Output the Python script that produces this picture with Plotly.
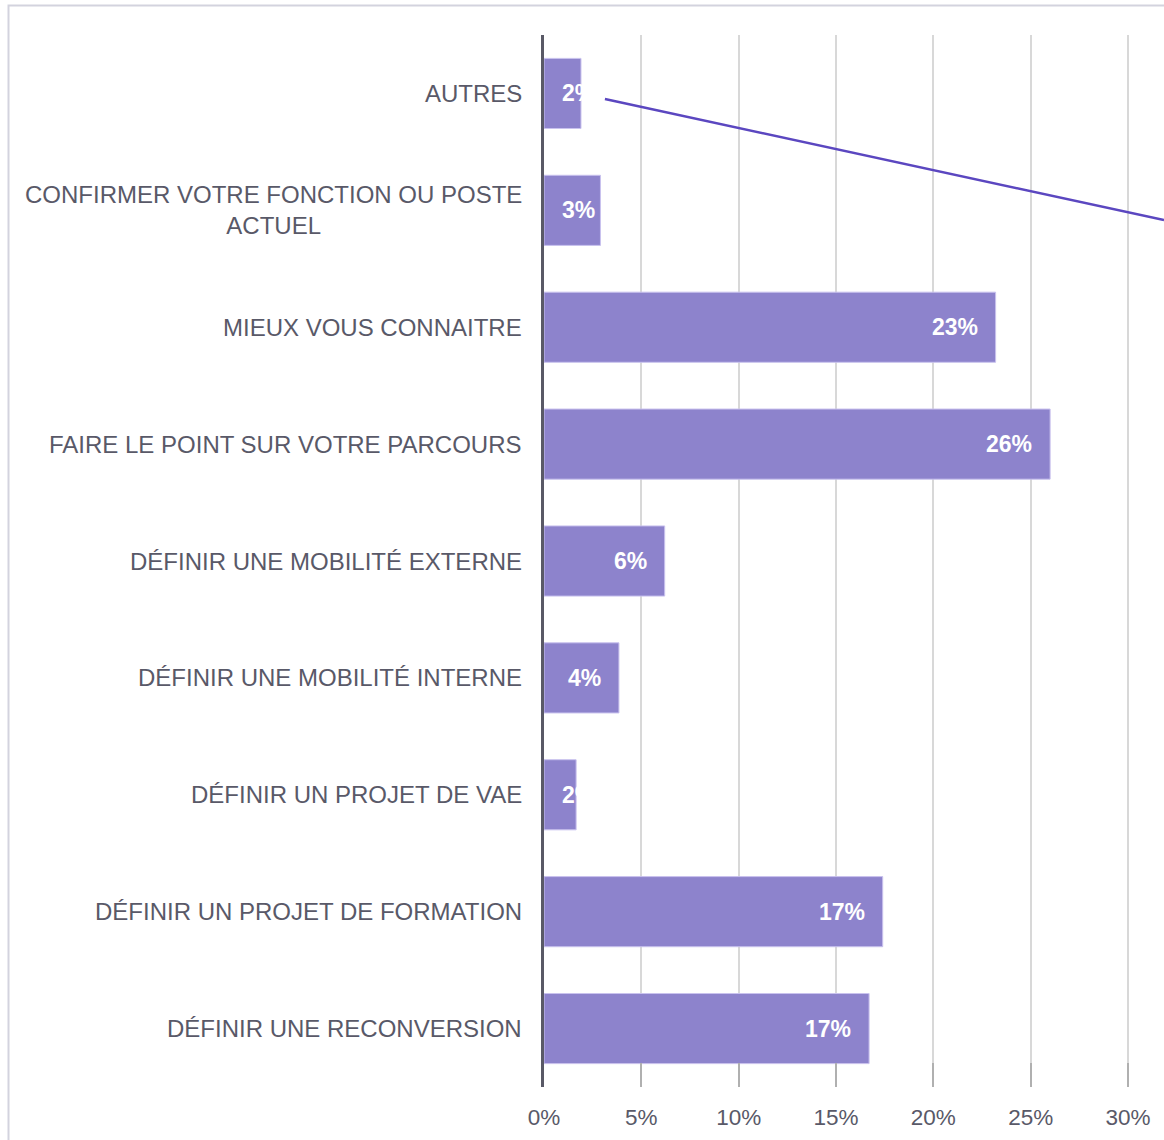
import plotly.graph_objects as go

categories = [
    "AUTRES",
    "CONFIRMER VOTRE FONCTION OU POSTE<br>ACTUEL",
    "MIEUX VOUS CONNAITRE",
    "FAIRE LE POINT SUR VOTRE PARCOURS",
    "DÉFINIR UNE MOBILITÉ EXTERNE",
    "DÉFINIR UNE MOBILITÉ INTERNE",
    "DÉFINIR UN PROJET DE VAE",
    "DÉFINIR UN PROJET DE FORMATION",
    "DÉFINIR UNE RECONVERSION",
]
values = [1.9, 2.9, 23.2, 26.0, 6.2, 3.85, 1.65, 17.4, 16.7]
value_labels = ["2%", "3%", "23%", "26%", "6%", "4%", "2%", "17%", "17%"]
tick_vals = [0, 5, 10, 15, 20, 25, 30]
tick_text = ["0%", "5%", "10%", "15%", "20%", "25%", "30%"]

BAR = "#8d83cc"
TXT = "#595968"
FONT = "Liberation Sans, Arial, sans-serif"
X_MAX = 31.85
PLOT_W = 620
LBL_SIZE = 23
PAD = 16

fig = go.Figure()
fig.add_trace(go.Bar(
    x=values, y=categories, orientation="h",
    marker=dict(color=BAR, line=dict(color="#c9c2ee", width=1)),
    hoverinfo="skip",
))

# category labels (centered multi-line, like the original)
for c in categories:
    fig.add_annotation(
        x=0, xref="paper", y=c, yref="y", text=c, showarrow=False,
        xanchor="right", yanchor="middle", xshift=-20, align="center",
        font=dict(family=FONT, size=24, color=TXT),
    )

# value labels: inside end, falling back to inside base when the bar is short
px_per_unit = PLOT_W / X_MAX
for v, c, t in zip(values, categories, value_labels):
    est_w = LBL_SIZE * (0.556 * (len(t) - 1) + 0.889)
    bar_px = v * px_per_unit
    if bar_px - PAD - est_w >= PAD:
        fig.add_annotation(x=v, y=c, xref="x", yref="y", text=t, showarrow=False,
                           xanchor="right", xshift=-PAD, yanchor="middle",
                           font=dict(family=FONT, size=LBL_SIZE, color="white", weight="bold"))
    else:
        fig.add_annotation(x=0, y=c, xref="x", yref="y", text=t, showarrow=False,
                           xanchor="left", xshift=PAD, yanchor="middle",
                           font=dict(family=FONT, size=LBL_SIZE, color="white", weight="bold"))

# light frame around the chart
fig.add_shape(type="rect", xref="paper", yref="paper",
              x0=-0.8637, x1=1.2, y0=-0.1, y1=1.0281,
              line=dict(color="#d3d3de", width=2), layer="below")
# leader line
fig.add_shape(type="line", xref="x", yref="paper",
              x0=3.13, y0=0.9392, x1=X_MAX, y1=0.8241,
              line=dict(color="#5b47c0", width=2.5))

fig.update_layout(
    width=1164, height=1140,
    margin=dict(l=544, r=0, t=35, b=53),
    paper_bgcolor="white", plot_bgcolor="white",
    bargap=0.4, showlegend=False,
    xaxis=dict(range=[0, X_MAX], tickvals=tick_vals, ticktext=tick_text,
               showgrid=True, gridcolor="#d8d8d8", gridwidth=1.5,
               zeroline=False, showline=False,
               ticks="inside", ticklen=24, tickcolor="#b0b0b0", tickwidth=1.5,
               ticklabelstandoff=14,
               tickfont=dict(family=FONT, size=22.5, color=TXT)),
    yaxis=dict(autorange="reversed", showticklabels=False, showgrid=False,
               showline=True, linecolor="#595966", linewidth=3, zeroline=False,
               ticks=""),
)

fig.write_html("out.html", config={"displayModeBar": False},
               post_script="document.body.style.margin='0';document.body.style.overflow='hidden';")
